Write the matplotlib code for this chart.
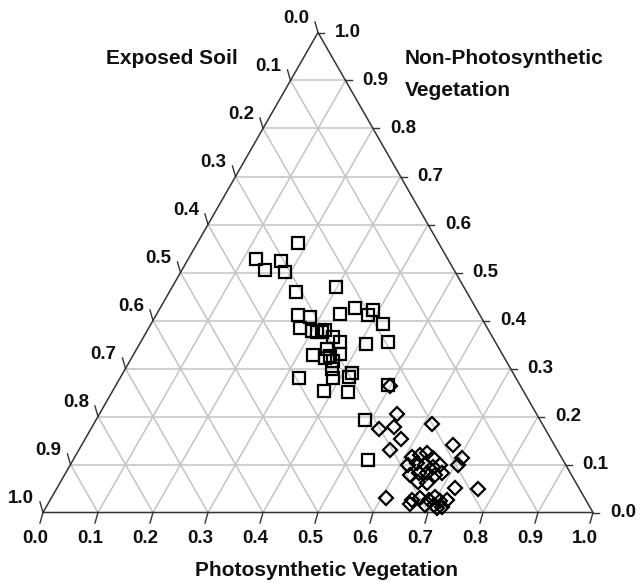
import numpy as np
import matplotlib
matplotlib.use('Agg')
import matplotlib.pyplot as plt

plt.rcParams['font.family'] = ['Liberation Sans', 'DejaVu Sans']
plt.rcParams['font.weight'] = 'bold'

# ternary data (photosynthetic veg, non-photosynthetic veg); soil = 1 - pv - npv
sq_pv = [0.182, 0.124, 0.171, 0.152, 0.189, 0.230, 0.298, 0.258, 0.282, 0.333,
         0.354, 0.385, 0.389, 0.421, 0.275, 0.300, 0.310, 0.319, 0.323, 0.345,
         0.362, 0.412, 0.449, 0.327, 0.347, 0.358, 0.375, 0.352, 0.370, 0.375,
         0.388, 0.414, 0.417, 0.326, 0.383, 0.429, 0.495, 0.489, 0.536]
sq_npv = [0.562, 0.528, 0.523, 0.505, 0.502, 0.459, 0.470, 0.411, 0.408, 0.413,
          0.426, 0.411, 0.422, 0.393, 0.385, 0.379, 0.377, 0.377, 0.380, 0.366,
          0.356, 0.351, 0.356, 0.329, 0.340, 0.327, 0.330, 0.321, 0.316, 0.300,
          0.280, 0.283, 0.290, 0.280, 0.254, 0.252, 0.266, 0.192, 0.110]

dm_pv = [0.498, 0.541, 0.525, 0.548, 0.575, 0.566, 0.615, 0.675, 0.705, 0.705,
         0.723, 0.767, 0.609, 0.658, 0.612, 0.626, 0.636, 0.653, 0.615, 0.628,
         0.645, 0.662, 0.672, 0.628, 0.642, 0.657, 0.674, 0.684, 0.650, 0.667,
         0.657, 0.671, 0.688, 0.696, 0.711, 0.702, 0.687, 0.719, 0.721, 0.711]
dm_npv = [0.264, 0.206, 0.173, 0.179, 0.153, 0.130, 0.184, 0.141, 0.114, 0.099,
          0.052, 0.048, 0.030, 0.018, 0.116, 0.120, 0.123, 0.113, 0.099, 0.103,
          0.099, 0.095, 0.099, 0.078, 0.082, 0.082, 0.078, 0.082, 0.064, 0.061,
          0.026, 0.030, 0.026, 0.033, 0.023, 0.016, 0.016, 0.012, 0.026, 0.009]

ticks = np.round(np.arange(0, 1.01, 0.1), 1)
H = np.sqrt(3) / 2


def to_xy(pv, npv):
    pv = np.asarray(pv)
    npv = np.asarray(npv)
    return pv + npv / 2, npv * H


fig = plt.figure(figsize=(6.39, 5.82), dpi=100)
ax = fig.add_axes([43 / 639, 69.5 / 582, 550 / 639, 480 / 582])
ax.set_xlim(0, 1)
ax.set_ylim(0, H)
ax.axis('off')

grid_kw = dict(color='#c4c4c4', lw=1.1, zorder=1)
for t in ticks[1:-1]:
    # constant NPV (horizontal)
    ax.plot([t / 2, 1 - t / 2], [t * H, t * H], **grid_kw)
    # constant PV
    ax.plot([t, t + (1 - t) / 2], [0, (1 - t) * H], **grid_kw)
    # constant soil
    ax.plot([(1 - t) / 2, 1 - t], [(1 - t) * H, 0], **grid_kw)

ax.plot([0, 1, 0.5, 0], [0, 0, H, 0], color='#333333', lw=1.1, zorder=2,
        clip_on=False)

tl = 0.011
lab_kw = dict(fontsize=13.5, fontweight='bold', color='#111111',
              textcoords='offset pixels', annotation_clip=False)
for t in ticks:
    # bottom axis: photosynthetic vegetation
    bx, by = t, 0
    ax.plot([bx, bx - tl * 0.5], [by, by - tl * H * 2], color='#333333',
            lw=1, clip_on=False)
    ax.annotate(f'{t:.1f}', (bx, by), xytext=(-8, -26), ha='center',
                va='center', **lab_kw)
    # right axis: non-photosynthetic vegetation
    rx, ry = to_xy(1 - t, t)
    ax.plot([rx, rx + tl], [ry, ry], color='#333333', lw=1, clip_on=False)
    ax.annotate(f'{t:.1f}', (rx, ry), xytext=(17, 0), ha='left',
                va='center', **lab_kw)
    # left axis: exposed soil
    lx, ly = to_xy(0, 1 - t)
    ax.plot([lx, lx - tl * 0.5], [ly, ly + tl * H * 2], color='#333333',
            lw=1, clip_on=False)
    ax.annotate(f'{t:.1f}', (lx, ly), xytext=(-22, 14), ha='center',
                va='center', **lab_kw)

sx, sy = to_xy(sq_pv, sq_npv)
ax.plot(sx, sy, 's', mfc='none', mec='black', ms=8.6, mew=1.6, zorder=3,
        clip_on=False)
dx, dy = to_xy(dm_pv, dm_npv)
ax.plot(dx, dy, 'D', mfc='none', mec='black', ms=7.6, mew=1.6, zorder=3,
        clip_on=False)

title_kw = dict(fontsize=15, fontweight='bold', color='#111111')
fig.text(172 / 639, 1 - 58 / 582, 'Exposed Soil', ha='center', va='center',
         **title_kw)
fig.text(405 / 639, 1 - 58 / 582, 'Non-Photosynthetic', ha='left',
         va='center', **title_kw)
fig.text(405 / 639, 1 - 90 / 582, 'Vegetation', ha='left', va='center',
         **title_kw)
fig.text(327 / 639, 1 - 570 / 582, 'Photosynthetic Vegetation', ha='center',
         va='center', **title_kw)

fig.savefig('out.png', dpi=100, facecolor='white')
